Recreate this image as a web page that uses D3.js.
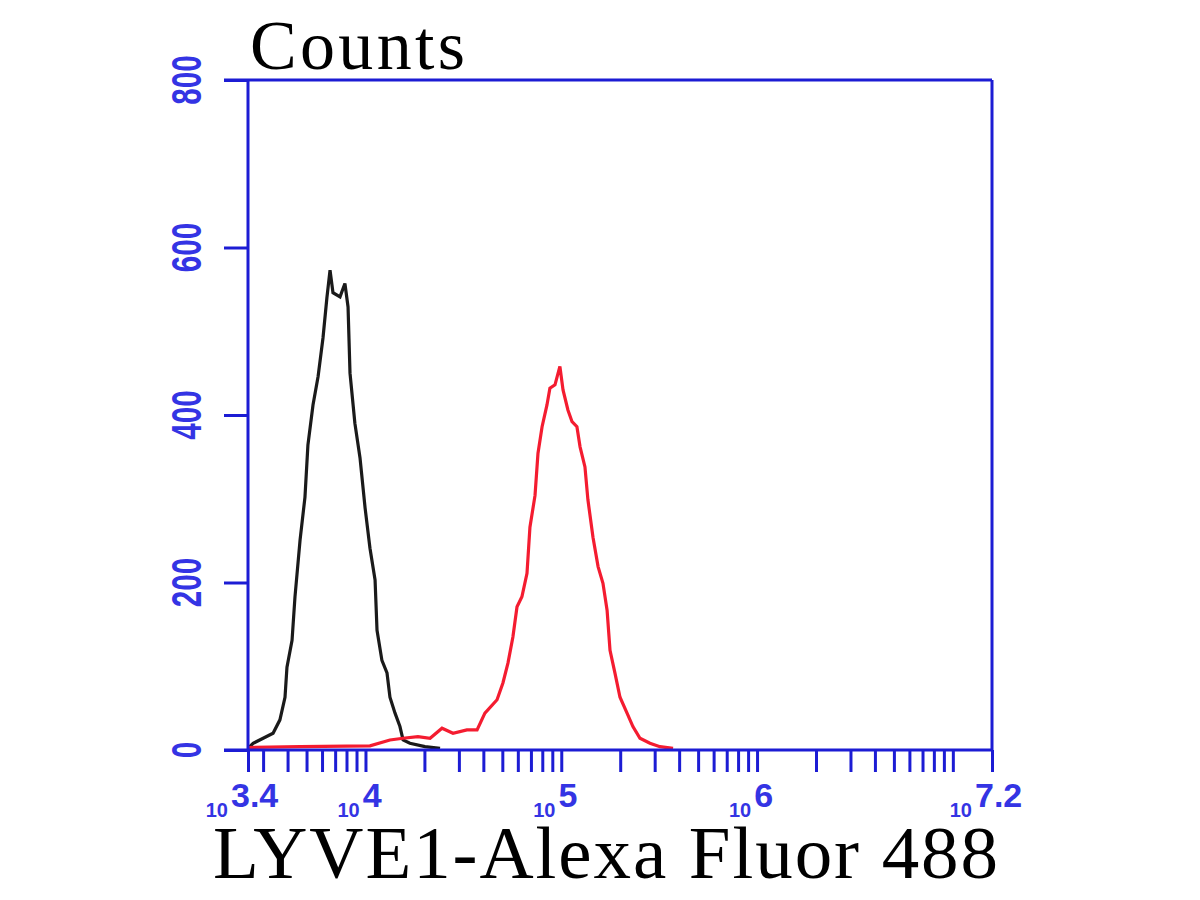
<!DOCTYPE html>
<html><head><meta charset="utf-8">
<script src="https://cdn.jsdelivr.net/npm/d3@7"></script>
<style>body{margin:0;background:#fff}</style></head>
<body>
<svg id="c" width="1200" height="900"></svg>
<script>
// Isotype control (black) histogram: log10 intensity and counts
const controlLog = [3.40,3.426,3.528,3.563,3.589,3.599,3.625,3.640,3.666,3.691,3.706,3.732,3.758,3.783,3.803,3.819,3.834,3.870,3.895,3.911,3.921,3.946,3.972,3.998,4.023,4.049,4.059,4.084,4.110,4.125,4.151,4.176,4.192,4.227,4.304,4.381];
const controlCounts = [2,8,20,36,63,99,131,183,251,302,364,412,446,492,540,573,546,541,557,529,450,390,349,289,241,203,143,107,92,63,44,28,12,8,4,2];
// LYVE1 stained (red) histogram
const stainedLog = [3.40,3.666,4.023,4.125,4.192,4.268,4.330,4.391,4.447,4.518,4.570,4.610,4.672,4.702,4.728,4.753,4.774,4.799,4.825,4.840,4.866,4.881,4.902,4.927,4.942,4.968,4.993,5.009,5.034,5.055,5.080,5.096,5.121,5.136,5.162,5.188,5.213,5.234,5.249,5.274,5.300,5.336,5.366,5.402,5.453,5.504,5.571];
const stainedCounts = [3,4,5,12,14,16,14,26,20,24,24,44,60,80,104,135,171,183,211,266,304,354,386,412,432,436,458,430,406,392,386,362,338,299,254,219,199,167,119,92,63,44,28,14,8,4,2];
const yTickValues = [0,200,400,600,800];
const xLabelExponents = [3.4,4,5,6,7.2];
const xLabelTexts = ["3.4","4","5","6","7.2"];
const xTitle = "LYVE1-Alexa Fluor 488";
const yTitle = "Counts";

const blue = "#1c1cd4";
const labelBlue = "#3434e4";
const svg = d3.select("#c");
const x = d3.scaleLog().domain([Math.pow(10,3.4), Math.pow(10,7.2)]).range([248, 992]);
const y = d3.scaleLinear().domain([0, 800]).range([750, 80]);
const [x0, x1] = x.range();
const [yb, yt] = y.range();

// curves
const line = d3.line().x(d => x(Math.pow(10, d[0]))).y(d => y(d[1]));
svg.append("path").datum(d3.zip(controlLog, controlCounts))
  .attr("d", line).attr("fill", "none").attr("stroke", "#1a1a1a").attr("stroke-width", 3.2);
svg.append("path").datum(d3.zip(stainedLog, stainedCounts))
  .attr("d", line).attr("fill", "none").attr("stroke", "#f41c30").attr("stroke-width", 3.2);

// y axis
const yAxis = svg.append("g").attr("transform", `translate(${x0},0)`)
  .call(d3.axisLeft(y).tickValues(yTickValues).tickSize(24).tickFormat(""));
yAxis.select(".domain").attr("stroke", blue).attr("stroke-width", 3).attr("d", `M0,${yb}V${yt}`);
yAxis.selectAll(".tick line").attr("stroke", blue).attr("stroke-width", 3);
svg.selectAll(".ylab").data(yTickValues).enter().append("text")
  .attr("transform", d => `translate(${x0 - 62},${y(d)}) rotate(-90)`)
  .attr("text-anchor", "middle").attr("dy", "0.36em")
  .attr("font-family", "Liberation Sans, Arial, sans-serif").attr("font-weight", "bold")
  .attr("font-size", 42).attr("fill", labelBlue)
  .attr("textLength", d => String(d).length * 16.5).attr("lengthAdjust", "spacingAndGlyphs")
  .text(d => d);

// x axis
const xTicks = x.ticks().concat(x.domain());
const xAxis = svg.append("g").attr("transform", `translate(0,${yb})`)
  .call(d3.axisBottom(x).tickValues(xTicks).tickSize(22).tickFormat(""));
xAxis.select(".domain").attr("stroke", blue).attr("stroke-width", 3).attr("d", `M${x0 - 24},0H${x1}`);
xAxis.selectAll(".tick line").attr("stroke", blue).attr("stroke-width", 3);

// box top and right
svg.append("line").attr("x1", x0 - 24).attr("x2", x1).attr("y1", yt).attr("y2", yt)
  .attr("stroke", blue).attr("stroke-width", 3);
svg.append("line").attr("x1", x1).attr("x2", x1).attr("y1", yt).attr("y2", yb)
  .attr("stroke", blue).attr("stroke-width", 3);

// x tick labels 10^e
const xl = svg.selectAll(".xlab").data(d3.zip(xLabelExponents, xLabelTexts)).enter().append("text")
  .attr("x", d => x(Math.pow(10, d[0])) - 6).attr("y", 817)
  .attr("text-anchor", "middle").attr("font-family", "Liberation Sans, Arial, sans-serif")
  .attr("font-weight", "bold").attr("fill", labelBlue);
xl.append("tspan").attr("font-size", 20).text("10");
xl.append("tspan").attr("font-size", 34).attr("dx", 3).attr("dy", -10).text(d => d[1]);

// titles
svg.append("text").attr("x", 250).attr("y", 69)
  .attr("font-family", "Liberation Serif, Times New Roman, serif").attr("font-size", 70)
  .attr("textLength", 215).attr("lengthAdjust", "spacing").attr("fill", "#000").text(yTitle);
svg.append("text").attr("x", 213).attr("y", 878)
  .attr("font-family", "Liberation Serif, Times New Roman, serif").attr("font-size", 75)
  .attr("textLength", 785).attr("lengthAdjust", "spacing").attr("fill", "#000").text(xTitle);
</script>
</body></html>
